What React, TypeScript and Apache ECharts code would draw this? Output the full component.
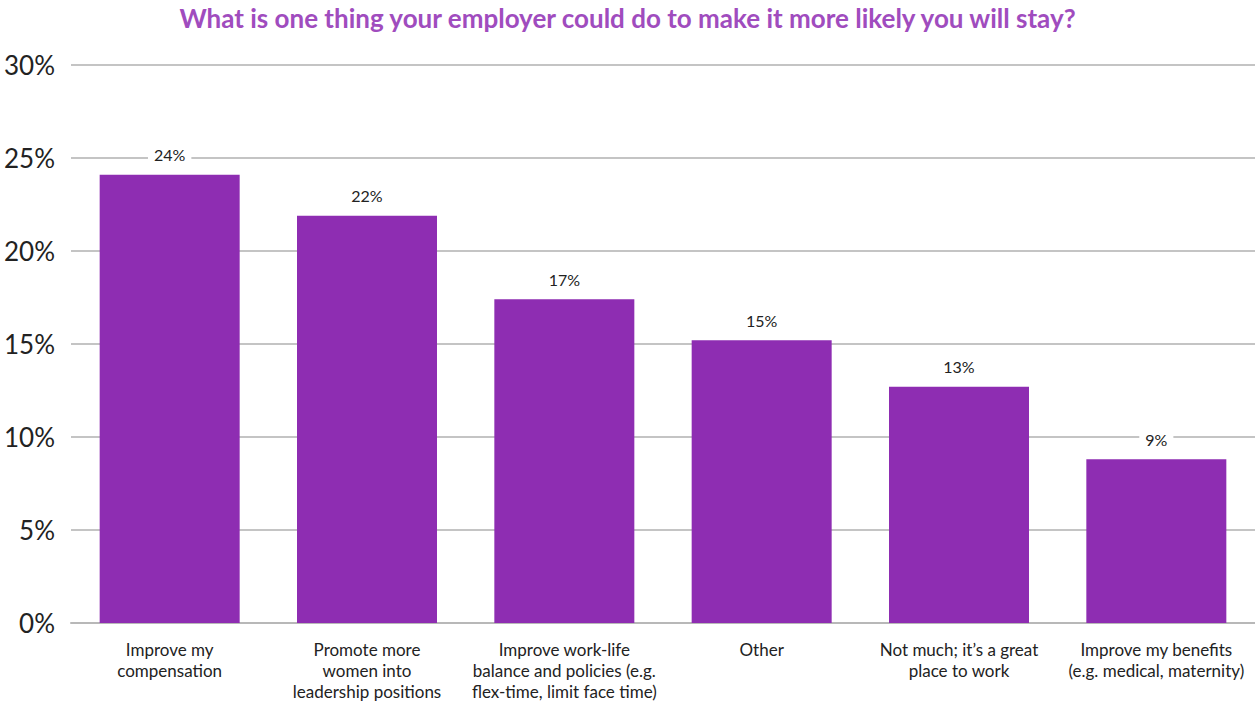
import React, { useEffect, useRef } from "react";
import * as echarts from "echarts";

const titleText = "What is one thing your employer could do to make it more likely you will stay?";
const categories = [
  "Improve my\ncompensation",
  "Promote more\nwomen into\nleadership positions",
  "Improve work-life\nbalance and policies (e.g.\nflex-time, limit face time)",
  "Other",
  "Not much; it’s a great\nplace to work",
  "Improve my benefits\n(e.g. medical, maternity)",
];
const values = [24.1, 21.9, 17.4, 15.2, 12.7, 8.8];
const yTicks = [0, 5, 10, 15, 20, 25, 30];

export default function App() {
  const ref = useRef<HTMLDivElement>(null);
  useEffect(() => {
    if (!ref.current) return;
    const chart = echarts.init(ref.current, null, { renderer: "svg" });
    chart.setOption({
      animation: false,
      backgroundColor: "#ffffff",
      textStyle: { fontFamily: "Lato" },
      title: {
        text: titleText,
        left: "center",
        top: 0,
        textStyle: { fontFamily: "Lato", fontSize: 26, fontWeight: "bold", color: "#A04CBE" },
      },
      grid: { left: 71, right: 0, top: 65, bottom: 77, containLabel: false },
      xAxis: {
        type: "category",
        data: categories,
        axisLine: { show: true, lineStyle: { color: "#b8b8b8", width: 2 } },
        axisTick: { show: false },
        axisLabel: {
          interval: 0,
          margin: 16,
          fontFamily: "Lato",
          fontSize: 17,
          lineHeight: 21,
          color: "#222222",
        },
      },
      yAxis: {
        type: "value",
        min: yTicks[0],
        max: yTicks[yTicks.length - 1],
        interval: 5,
        axisLine: { show: false },
        axisTick: { show: false },
        splitLine: { lineStyle: { color: "#c4c4c4", width: 2 } },
        axisLabel: {
          margin: 16,
          fontFamily: "Lato",
          fontSize: 26,
          color: "#222222",
          formatter: (v: number) => v + "%",
        },
      },
      series: [
        {
          type: "bar",
          data: values,
          barWidth: 140,
          itemStyle: { color: "#8E2DB2" },
          label: {
            show: true,
            position: "top",
            distance: 12,
            fontFamily: "Lato",
            fontSize: 16,
            color: "#222222",
            backgroundColor: "#ffffff",
            padding: [0, 6],
            formatter: (p: any) => Math.round(p.value) + "%",
          },
        },
      ],
    });
    return () => chart.dispose();
  }, []);
  return (
    <div
      ref={ref}
      style={{ position: "fixed", left: 0, top: 0, width: 1255, height: 702 }}
    />
  );
}
